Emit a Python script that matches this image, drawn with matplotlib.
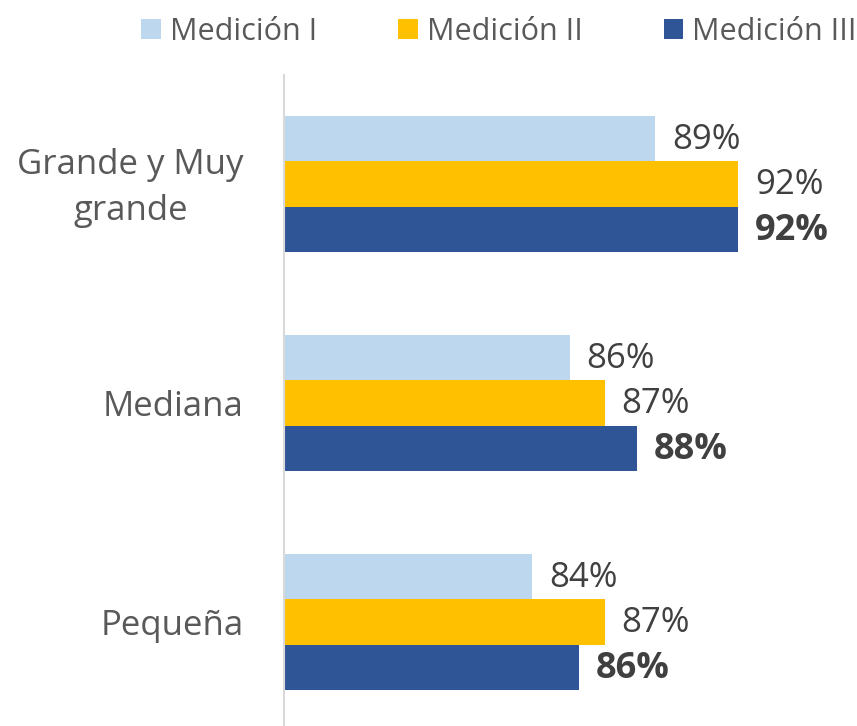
import numpy as np
import matplotlib
matplotlib.use("Agg")
import matplotlib.pyplot as plt
import matplotlib.transforms as mtransforms

plt.rcParams['font.family'] = ['Open Sans', 'DejaVu Sans']

# data (top group first)
categories = ["Grande y Muy\ngrande", "Mediana", "Pequeña"]
series_names = ["Medición I", "Medición II", "Medición III"]
med1 = [88.9, 85.7, 84.3]
med2 = [92.0, 87.0, 87.0]
med3 = [92.0, 88.2, 86.05]
colors = ["#BDD7EE", "#FFC000", "#2F5597"]

fig = plt.figure(figsize=(8.57, 7.26), dpi=100)
ax = fig.add_axes([284/857, -5.5/726, 561/857, 657/726])

n = len(categories)
y = np.arange(n)[::-1]  # top group at highest y
h = 0.208
offsets = [h, 0, -h]
xmin = 75

for vals, off, col, name in zip([med1, med2, med3], offsets, colors, series_names):
    vals = np.array(vals)
    ax.barh(y + off, vals - xmin, left=xmin, height=h, color=col,
            label=name, edgecolor='none')
    bold = name == "Medición III"
    for yy, v in zip(y + off, vals):
        ax.annotate(f"{round(v):.0f}%", xy=(v, yy), xytext=(12, -1),
                    textcoords='offset points', ha='left', va='center',
                    fontsize=26 if bold else 25, color='#404040',
                    fontweight='bold' if bold else 'normal',
                    annotation_clip=False)

ax.set_xlim(xmin, 96)
ax.set_ylim(-0.5, 2.5)
ax.set_xticks([])
ax.set_yticks(y)
ax.tick_params(axis='y', length=0, pad=29)
ax.set_yticklabels(categories, fontsize=25, color='#595959')
for t in ax.get_yticklabels():
    t.set_multialignment('center')
    t.set_linespacing(1.45)
    if '\n' in t.get_text():
        # nudge the two-line label up a little
        t.set_transform(t.get_transform() +
                        mtransforms.ScaledTranslation(0, 0.06, fig.dpi_scale_trans))
for s in ['top', 'right', 'bottom']:
    ax.spines[s].set_visible(False)
ax.spines['left'].set_color('#D9D9D9')
ax.spines['left'].set_linewidth(1.5)

fig.legend(loc='center left', bbox_to_anchor=(141/857, 1 - 32/726), ncol=3,
           frameon=False, fontsize=22, handlelength=0.65, handleheight=0.65,
           handletextpad=0.29, columnspacing=2.65, labelcolor='#595959',
           borderpad=0, borderaxespad=0)

fig.savefig("out.png", dpi=100)
